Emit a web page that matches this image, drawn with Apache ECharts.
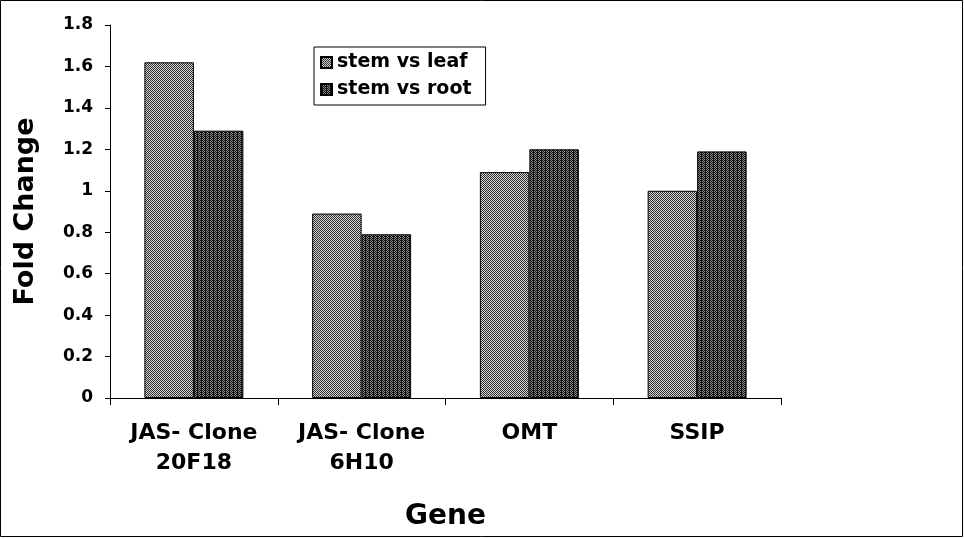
<!DOCTYPE html>
<html><head><meta charset="utf-8">
<script src="https://cdn.jsdelivr.net/npm/echarts@6/dist/echarts.min.js"></script>
<style>
html,body{margin:0;padding:0;background:#fff;}
#c{width:964px;height:539px;}
</style></head>
<body><div id="c"></div>
<script>
const categories = ['JAS- Clone\n20F18', 'JAS- Clone\n6H10', 'OMT', 'SSIP'];
const stemVsLeaf = [1.62, 0.89, 1.09, 1.00];
const stemVsRoot = [1.29, 0.79, 1.20, 1.19];
const yTicks = [0, 0.2, 0.4, 0.6, 0.8, 1, 1.2, 1.4, 1.6, 1.8];

function pattern(dark, light, extra) {
  const c = document.createElement('canvas');
  c.width = 4; c.height = 4;
  const g = c.getContext('2d');
  g.fillStyle = light; g.fillRect(0, 0, 4, 4);
  g.fillStyle = dark;
  for (let y = 0; y < 4; y++) for (let x = 0; x < 4; x++) {
    if ((x + y) % 2 === 0 || (extra && (x % 4 === 1 && y % 2 === 0))) g.fillRect(x, y, 1, 1);
  }
  return c;
}
const leafPat = pattern('#333333', '#d0d0d0', false);
const rootPat = pattern('#111111', '#8a8a8a', true);

const font = 'DejaVu Sans, Liberation Sans, Arial, sans-serif';
const chart = echarts.init(document.getElementById('c'));
chart.setOption({
  animation: false,
  backgroundColor: '#fff',
  graphic: [{
    type: 'rect', shape: {x: 0.5, y: 0.5, width: 962, height: 536},
    style: {fill: 'none', stroke: '#000', lineWidth: 1}
  }],
  legend: {
    left: 314, top: 47, orient: 'vertical', itemGap: 8,
    itemWidth: 11, itemHeight: 11, icon: 'rect',
    padding: [6, 14, 6, 6],
    borderColor: '#000', borderWidth: 1,
    textStyle: {fontFamily: font, fontWeight: 'bold', fontSize: 19, color: '#000'},
    data: ['stem vs leaf', 'stem vs root']
  },
  grid: {left: 110, right: 183, top: 25, bottom: 141},
  xAxis: {
    type: 'category', data: categories,
    name: 'Gene', nameLocation: 'middle', nameGap: 105,
    nameTextStyle: {fontFamily: font, fontWeight: 'bold', fontSize: 28, color: '#000'},
    axisLine: {lineStyle: {color: '#000', width: 1}},
    axisTick: {show: true, length: 7, lineStyle: {color: '#000'}},
    axisLabel: {fontFamily: font, fontWeight: 'bold', fontSize: 22, color: '#000', margin: 20, lineHeight: 30}
  },
  yAxis: {
    type: 'value', min: 0, max: 1.8, interval: 0.2,
    name: 'Fold Change', nameLocation: 'middle', nameGap: 71, nameRotate: 90,
    nameTextStyle: {fontFamily: font, fontWeight: 'bold', fontSize: 27, color: '#000'},
    splitLine: {show: false},
    axisLine: {show: true, lineStyle: {color: '#000', width: 1}},
    axisTick: {show: true, length: 5, lineStyle: {color: '#000'}},
    axisLabel: {fontFamily: font, fontWeight: 'bold', fontSize: 17, color: '#000', margin: 17,
      formatter: v => String(Math.round(v * 10) / 10)}
  },
  series: [
    {name: 'stem vs leaf', type: 'bar', data: stemVsLeaf, barGap: '0%', barCategoryGap: '41%',
     itemStyle: {color: {image: leafPat, repeat: 'repeat'}, borderColor: '#000', borderWidth: 1}},
    {name: 'stem vs root', type: 'bar', data: stemVsRoot,
     itemStyle: {color: {image: rootPat, repeat: 'repeat'}, borderColor: '#000', borderWidth: 1}}
  ]
});
</script></body></html>
